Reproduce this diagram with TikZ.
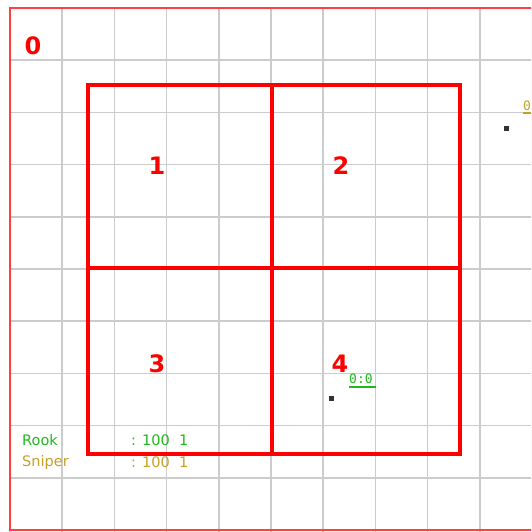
\documentclass[tikz,border=0pt]{standalone}
\usepackage{fontspec}
\setmainfont{DejaVu Sans}
\newfontfamily\monofont{DejaVu Sans Mono}
\definecolor{gridgray}{RGB}{204,204,204}
\definecolor{rookgreen}{RGB}{30,185,30}
\definecolor{snipergold}{RGB}{196,160,40}
\definecolor{dotgray}{RGB}{50,50,50}
\begin{document}
\begin{tikzpicture}[x=1pt,y=-1pt,
  gridline/.style={draw=gridgray,line width=1.6pt},
  quad/.style={draw=red,line width=3.6pt},
  qlabel/.style={text=red,font=\fontsize{24}{24}\selectfont\bfseries,inner sep=0pt},
  legend/.style={font=\fontsize{14.5}{14.5}\selectfont,inner sep=0pt,anchor=west},
  unit/.style={fill=dotgray,minimum size=5pt,inner sep=0pt},
  tag/.style={font=\monofont\fontsize{13}{13}\selectfont,inner sep=0pt,anchor=south west}]
\useasboundingbox (0,0) rectangle (531,532);
\begin{scope}
\clip (0,0) rectangle (531,532);
\foreach \k in {0,...,10} {
  \draw[gridline] ({10+52.2*\k},8) -- ({10+52.2*\k},532);
  \draw[gridline] (10,{8+52.2*\k}) -- (531,{8+52.2*\k});
}
\draw[draw=red!75,line width=1.6pt] (10,8) rectangle (560,530);
\end{scope}
% quadrants
\draw[quad] (88,85) rectangle (460,454);
\draw[quad] (272,85) -- (272,454);
\draw[quad] (88,268) -- (460,268);
% labels
\node[qlabel] (l0) at (33,46) {0};
\node[qlabel] (l1) at (157,166) {1};
\node[qlabel] (l2) at (341,166) {2};
\node[qlabel] (l3) at (157,364) {3};
\node[qlabel] (l4) at (340,364) {4};
% units
\node[unit] (u1) at (506,128) {};
\node[unit] (u2) at (331,398) {};
\node[tag,text=rookgreen] (t1) at (349,384) {0:0};
\draw[rookgreen,line width=2.2pt] (349,387) -- (376,387);
\node[tag,text=snipergold] (t2) at (523,111) {0:0};
\draw[snipergold,line width=2.2pt] (523,113) -- (531,113);
% legend
\node[legend,text=rookgreen] (r) at (22,440) {Rook};
\node[legend,text=rookgreen] (rv) at (131,440) {: 100\ \ 1};
\node[legend,text=snipergold] (s) at (22,462) {Sniper};
\node[legend,text=snipergold] (sv) at (131,462) {: 100\ \ 1};
\end{tikzpicture}
\end{document}
